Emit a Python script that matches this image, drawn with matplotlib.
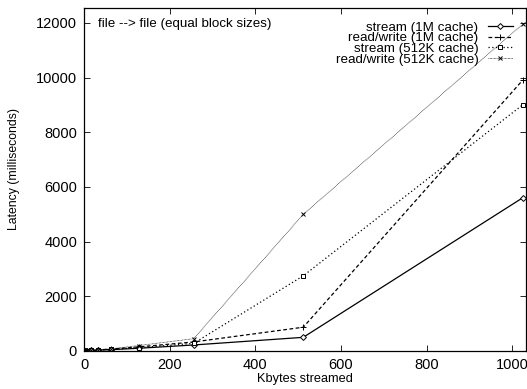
import numpy as np
import matplotlib.pyplot as plt

plt.rcParams['font.family'] = ['Liberation Sans', 'DejaVu Sans']

# block sizes in Kbytes
kbytes = [1, 2, 4, 8, 16, 32, 64, 128, 256, 512, 1024]

# latency in milliseconds
stream_1m = [3, 5, 8, 12, 20, 30, 50, 100, 220, 500, 5600]
readwrite_1m = [4, 6, 10, 15, 25, 40, 70, 150, 330, 870, 9900]
stream_512k = [3, 5, 9, 13, 22, 35, 60, 120, 280, 2750, 9000]
readwrite_512k = [4, 7, 11, 17, 28, 45, 80, 200, 450, 5000, 11950]

labels = ["stream (1M cache)", "read/write (1M cache)",
          "stream (512K cache)", "read/write (512K cache)"]

fig = plt.figure(figsize=(5.27, 3.89), dpi=100)
ax = fig.add_axes([0.1594, 0.0977, 0.8386, 0.8813])

ax.plot(kbytes, stream_1m, color='black', lw=0.9, ls='-',
        marker='D', ms=3, mfc='white', mew=0.7, label=labels[0])
ax.plot(kbytes, readwrite_1m, color='black', lw=0.9, ls=(0, (3, 2)),
        marker='+', ms=4, mew=0.7, label=labels[1])
ax.plot(kbytes, stream_512k, color='black', lw=0.9, ls=(0, (1, 2)),
        marker='s', ms=3.5, mfc='white', mew=0.7, label=labels[2])
ax.plot(kbytes, readwrite_512k, color='black', lw=0.5, ls=(0, (1, 1)),
        marker='x', ms=3.5, mew=0.7, label=labels[3])

ax.set_xlim(0, 1032)
ax.set_ylim(0, 12540)
ax.set_xticks([0, 200, 400, 600, 800, 1000])
ax.set_yticks([0, 2000, 4000, 6000, 8000, 10000, 12000])
ax.tick_params(direction='in', top=True, right=True, labelsize=10.5,
               length=4, width=0.6, pad=5)
for s in ax.spines.values():
    s.set_linewidth(0.9)

ax.set_xlabel("Kbytes streamed", fontsize=9.2, labelpad=1)
ax.set_ylabel("Latency (milliseconds)", fontsize=8.8)
ax.yaxis.set_label_coords(-0.145, 0.53)

ax.text(0.032, 0.955, "file --> file (equal block sizes)", transform=ax.transAxes,
        fontsize=9.6, va='center', ha='left')

leg = ax.legend(loc='upper right', fontsize=9.6, frameon=False,
                markerfirst=False, handlelength=1.9, handletextpad=0.67,
                labelspacing=-0.12, borderaxespad=0.78, borderpad=0.2,
                alignment='right')
for t in leg.get_texts():
    t.set_ha('right')

fig.savefig("out.png", dpi=100)
